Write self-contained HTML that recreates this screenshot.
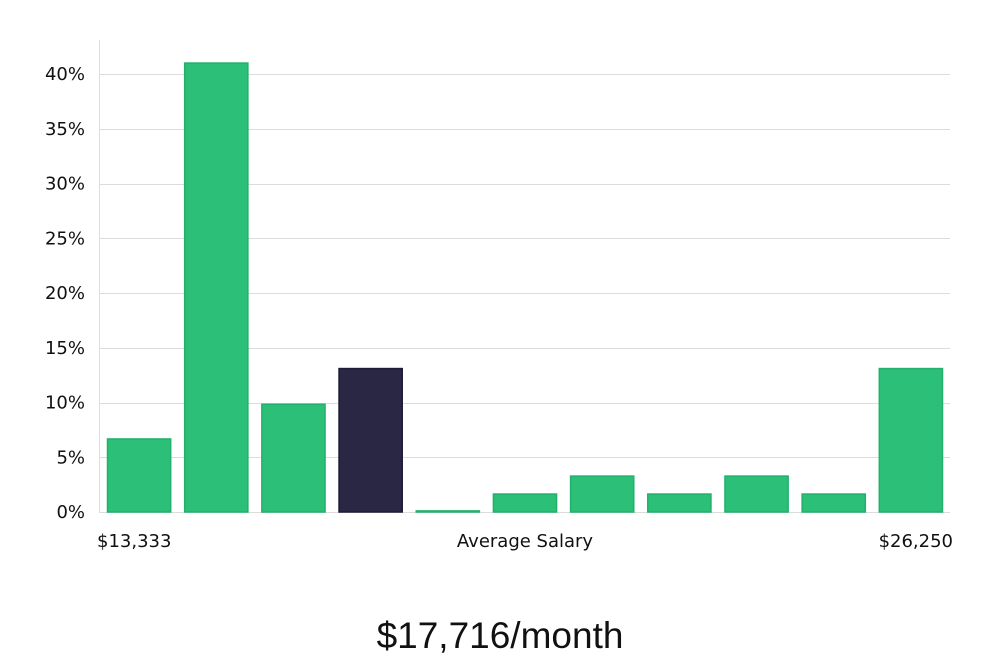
<!DOCTYPE html>
<html><head><meta charset="utf-8">
<style>
body{margin:0;background:#fff;width:1000px;height:660px;overflow:hidden;font-family:"DejaVu Sans","Liberation Sans",sans-serif;}
svg text{font-family:"DejaVu Sans","Liberation Sans",sans-serif;}
</style></head>
<body>
<svg id="chart" width="1000" height="660" xmlns="http://www.w3.org/2000/svg">
<g id="grid"></g>
<g id="yticks"></g>
<line x1="99.5" y1="40" x2="99.5" y2="512" stroke="#ddd" stroke-width="1"/>
<g id="bars"></g>
<text x="97" y="547" font-size="18" fill="#111">$13,333</text>
<text x="525" y="547" font-size="18" fill="#111" text-anchor="middle">Average Salary</text>
<text x="953" y="547" font-size="18" fill="#111" text-anchor="end">$26,250</text>
<text x="500" y="648" font-size="37" fill="#111" text-anchor="middle" font-weight="300" style="font-family:'Liberation Sans',sans-serif">$17,716/month</text>
</svg>
<script>
const categories = ["b1","b2","b3","b4","b5","b6","b7","b8","b9","b10","b11"];
const values = [6.67, 41.0, 9.84, 13.1, 0.1, 1.64, 3.28, 1.64, 3.28, 1.64, 13.1];
const highlight = [false,false,false,true,false,false,false,false,false,false,false];
const yTicks = [0,5,10,15,20,25,30,35,40];
const NS="http://www.w3.org/2000/svg";
const y0=512, pxPer=10.95;
function yScale(v){return y0 - v*pxPer;}
const left=107, right=942, n=categories.length, pitch=(right-left+14)/n, bw=pitch-14;
function xScale(i){return left + i*pitch;}
const grid=document.getElementById('grid'), yt=document.getElementById('yticks'), bars=document.getElementById('bars');
yTicks.forEach(t=>{
  const l=document.createElementNS(NS,'line');
  
  
  const y=Math.round(yScale(t))+0.5;
  l.setAttribute('x1',99);l.setAttribute('x2',950);l.setAttribute('y1',y);l.setAttribute('y2',y);
  l.setAttribute('stroke','#dcdcdc');
  grid.appendChild(l);
  const tx=document.createElementNS(NS,'text');
  
  
  tx.setAttribute('x',85);tx.setAttribute('y',yScale(t)+6);
  tx.setAttribute('text-anchor','end');tx.setAttribute('font-size','18');tx.setAttribute('fill','#111');
  tx.textContent=t+'%';
  yt.appendChild(tx);
});
values.forEach((v,i)=>{
  const r=document.createElementNS(NS,'rect');
  
  
  const y=yScale(v);
  r.setAttribute('x',xScale(i)+0.5);r.setAttribute('y',y);
  r.setAttribute('width',bw);r.setAttribute('height',Math.max(1,y0-y));
  r.setAttribute('fill',highlight[i]?'#2a2745':'#2bbf77');
  r.setAttribute('stroke',highlight[i]?'#1c1a35':'#22b06c');
  r.setAttribute('stroke-width','1.5');
  bars.appendChild(r);
});
</script>
</body></html>
